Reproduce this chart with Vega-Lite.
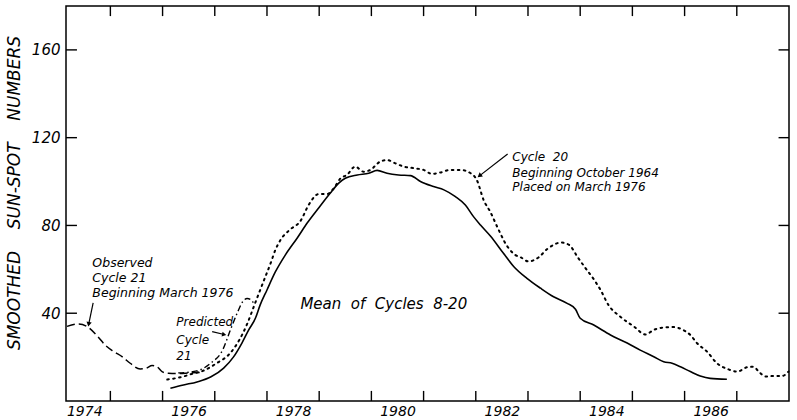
{
  "$schema": "https://vega.github.io/schema/vega-lite/v6.json",
  "width": 723,
  "height": 395,
  "autosize": {"type": "none"},
  "padding": {"left": 66, "top": 6, "right": 8, "bottom": 19},
  "background": "#ffffff",
  "config": {
    "view": {"stroke": "#000000", "strokeWidth": 1.5},
    "axis": {"grid": false, "domain": false, "ticks": false, "labelColor": "#000000", "labelFont": "DejaVu Sans", "labelFontStyle": "italic", "labelFontSize": 15, "labelOverlap": false, "labelFlush": false}
  },
  "datasets": {
    "mean": [
      {"year": 1976.15, "ssn": 5.8}, {"year": 1976.40, "ssn": 7.3}, {"year": 1976.66, "ssn": 8.7}, {"year": 1976.92, "ssn": 10.9},
      {"year": 1977.17, "ssn": 15.0}, {"year": 1977.36, "ssn": 20.1}, {"year": 1977.52, "ssn": 26.4}, {"year": 1977.65, "ssn": 32.4},
      {"year": 1977.78, "ssn": 37.8}, {"year": 1977.87, "ssn": 43.8}, {"year": 1978.00, "ssn": 50.6}, {"year": 1978.16, "ssn": 58.8},
      {"year": 1978.35, "ssn": 66.5}, {"year": 1978.58, "ssn": 74.3}, {"year": 1978.77, "ssn": 81.1}, {"year": 1978.99, "ssn": 88.0},
      {"year": 1979.21, "ssn": 94.7}, {"year": 1979.37, "ssn": 99.2}, {"year": 1979.50, "ssn": 101.5}, {"year": 1979.73, "ssn": 103.0},
      {"year": 1979.95, "ssn": 103.8}, {"year": 1980.11, "ssn": 105.1}, {"year": 1980.30, "ssn": 103.8}, {"year": 1980.52, "ssn": 103.0},
      {"year": 1980.75, "ssn": 102.7}, {"year": 1980.94, "ssn": 100.0}, {"year": 1981.19, "ssn": 97.7}, {"year": 1981.39, "ssn": 96.2},
      {"year": 1981.61, "ssn": 93.1}, {"year": 1981.80, "ssn": 89.3}, {"year": 1981.96, "ssn": 83.9}, {"year": 1982.09, "ssn": 80.2},
      {"year": 1982.28, "ssn": 75.2}, {"year": 1982.53, "ssn": 67.3}, {"year": 1982.73, "ssn": 61.2}, {"year": 1982.98, "ssn": 55.9},
      {"year": 1983.24, "ssn": 51.4}, {"year": 1983.49, "ssn": 47.5}, {"year": 1983.75, "ssn": 44.5}, {"year": 1983.91, "ssn": 41.8},
      {"year": 1984.00, "ssn": 37.7}, {"year": 1984.26, "ssn": 34.6}, {"year": 1984.58, "ssn": 30.1}, {"year": 1984.90, "ssn": 26.4},
      {"year": 1985.15, "ssn": 23.2}, {"year": 1985.41, "ssn": 20.2}, {"year": 1985.60, "ssn": 17.9}, {"year": 1985.76, "ssn": 17.2},
      {"year": 1985.92, "ssn": 15.6}, {"year": 1986.11, "ssn": 13.4}, {"year": 1986.30, "ssn": 11.4}, {"year": 1986.49, "ssn": 10.3},
      {"year": 1986.81, "ssn": 9.9}
    ],
    "cycle20": [
      {"year": 1976.09, "ssn": 9.8}, {"year": 1976.34, "ssn": 10.8}, {"year": 1976.60, "ssn": 12.6}, {"year": 1976.79, "ssn": 13.9},
      {"year": 1977.04, "ssn": 17.3}, {"year": 1977.28, "ssn": 21.4}, {"year": 1977.47, "ssn": 27.8}, {"year": 1977.62, "ssn": 35.1},
      {"year": 1977.76, "ssn": 43.8}, {"year": 1977.87, "ssn": 50.6}, {"year": 1977.97, "ssn": 56.7}, {"year": 1978.07, "ssn": 62.8},
      {"year": 1978.16, "ssn": 68.8}, {"year": 1978.26, "ssn": 73.4}, {"year": 1978.43, "ssn": 77.9}, {"year": 1978.64, "ssn": 82.0},
      {"year": 1978.81, "ssn": 89.8}, {"year": 1978.99, "ssn": 94.3}, {"year": 1979.15, "ssn": 94.3}, {"year": 1979.28, "ssn": 96.9},
      {"year": 1979.41, "ssn": 101.5}, {"year": 1979.53, "ssn": 103.0}, {"year": 1979.69, "ssn": 106.8}, {"year": 1979.85, "ssn": 104.5},
      {"year": 1979.98, "ssn": 105.3}, {"year": 1980.17, "ssn": 109.1}, {"year": 1980.30, "ssn": 109.8}, {"year": 1980.46, "ssn": 108.3},
      {"year": 1980.62, "ssn": 106.8}, {"year": 1980.81, "ssn": 106.1}, {"year": 1981.00, "ssn": 105.3}, {"year": 1981.16, "ssn": 103.5},
      {"year": 1981.32, "ssn": 104.1}, {"year": 1981.51, "ssn": 105.3}, {"year": 1981.71, "ssn": 105.3}, {"year": 1981.90, "ssn": 103.8},
      {"year": 1982.02, "ssn": 100.7}, {"year": 1982.15, "ssn": 91.6}, {"year": 1982.28, "ssn": 86.1}, {"year": 1982.41, "ssn": 79.4},
      {"year": 1982.60, "ssn": 70.6}, {"year": 1982.76, "ssn": 66.5}, {"year": 1982.85, "ssn": 65.6}, {"year": 1983.01, "ssn": 63.6},
      {"year": 1983.20, "ssn": 65.4}, {"year": 1983.37, "ssn": 69.3}, {"year": 1983.64, "ssn": 72.2}, {"year": 1983.79, "ssn": 71.1},
      {"year": 1983.95, "ssn": 65.6}, {"year": 1984.10, "ssn": 60.6}, {"year": 1984.23, "ssn": 56.5}, {"year": 1984.39, "ssn": 50.6},
      {"year": 1984.54, "ssn": 43.8}, {"year": 1984.77, "ssn": 38.4}, {"year": 1985.03, "ssn": 33.9}, {"year": 1985.25, "ssn": 30.3},
      {"year": 1985.41, "ssn": 32.4}, {"year": 1985.60, "ssn": 33.5}, {"year": 1985.78, "ssn": 33.7}, {"year": 1985.97, "ssn": 32.4},
      {"year": 1986.11, "ssn": 30.1}, {"year": 1986.24, "ssn": 26.3}, {"year": 1986.43, "ssn": 22.5}, {"year": 1986.62, "ssn": 17.2},
      {"year": 1986.82, "ssn": 14.6}, {"year": 1987.01, "ssn": 13.4}, {"year": 1987.20, "ssn": 15.4}, {"year": 1987.32, "ssn": 15.6},
      {"year": 1987.42, "ssn": 13.4}, {"year": 1987.55, "ssn": 11.2}, {"year": 1987.71, "ssn": 11.4}, {"year": 1987.87, "ssn": 11.4},
      {"year": 1987.99, "ssn": 13.4}
    ],
    "observed": [
      {"year": 1974.17, "ssn": 34.0}, {"year": 1974.39, "ssn": 35.1}, {"year": 1974.58, "ssn": 33.5}, {"year": 1974.75, "ssn": 29.6},
      {"year": 1974.90, "ssn": 25.5}, {"year": 1975.06, "ssn": 22.6}, {"year": 1975.23, "ssn": 20.1}, {"year": 1975.38, "ssn": 17.2},
      {"year": 1975.57, "ssn": 14.6}, {"year": 1975.69, "ssn": 15.0}, {"year": 1975.80, "ssn": 16.2}, {"year": 1975.90, "ssn": 15.5},
      {"year": 1975.99, "ssn": 13.4}, {"year": 1976.11, "ssn": 12.6}, {"year": 1976.30, "ssn": 12.5}, {"year": 1976.53, "ssn": 12.8},
      {"year": 1976.78, "ssn": 13.0}
    ],
    "predicted": [
      {"year": 1976.30, "ssn": 12.8}, {"year": 1976.55, "ssn": 13.3}, {"year": 1976.75, "ssn": 14.5}, {"year": 1976.92, "ssn": 17.2},
      {"year": 1977.15, "ssn": 23.2}, {"year": 1977.30, "ssn": 32.4}, {"year": 1977.43, "ssn": 40.1}, {"year": 1977.53, "ssn": 45.1},
      {"year": 1977.62, "ssn": 46.7}, {"year": 1977.70, "ssn": 46.0}, {"year": 1977.76, "ssn": 43.8}
    ],
    "tickSegs": [
      {"tick": "b75", "year": 1975, "ssn": 0}, {"tick": "b75", "year": 1975, "ssn": 4.6},
      {"tick": "b76", "year": 1976, "ssn": 0}, {"tick": "b76", "year": 1976, "ssn": 4.6},
      {"tick": "b77", "year": 1977, "ssn": 0}, {"tick": "b77", "year": 1977, "ssn": 4.6},
      {"tick": "b78", "year": 1978, "ssn": 0}, {"tick": "b78", "year": 1978, "ssn": 4.6},
      {"tick": "b79", "year": 1979, "ssn": 0}, {"tick": "b79", "year": 1979, "ssn": 4.6},
      {"tick": "b80", "year": 1980, "ssn": 0}, {"tick": "b80", "year": 1980, "ssn": 4.6},
      {"tick": "b81", "year": 1981, "ssn": 0}, {"tick": "b81", "year": 1981, "ssn": 4.6},
      {"tick": "b82", "year": 1982, "ssn": 0}, {"tick": "b82", "year": 1982, "ssn": 4.6},
      {"tick": "b83", "year": 1983, "ssn": 0}, {"tick": "b83", "year": 1983, "ssn": 4.6},
      {"tick": "b84", "year": 1984, "ssn": 0}, {"tick": "b84", "year": 1984, "ssn": 4.6},
      {"tick": "b85", "year": 1985, "ssn": 0}, {"tick": "b85", "year": 1985, "ssn": 4.6},
      {"tick": "b86", "year": 1986, "ssn": 0}, {"tick": "b86", "year": 1986, "ssn": 4.6},
      {"tick": "b87", "year": 1987, "ssn": 0}, {"tick": "b87", "year": 1987, "ssn": 4.6},
      {"tick": "t75", "year": 1975, "ssn": 180}, {"tick": "t75", "year": 1975, "ssn": 175.4},
      {"tick": "t76", "year": 1976, "ssn": 180}, {"tick": "t76", "year": 1976, "ssn": 175.4},
      {"tick": "t77", "year": 1977, "ssn": 180}, {"tick": "t77", "year": 1977, "ssn": 175.4},
      {"tick": "t78", "year": 1978, "ssn": 180}, {"tick": "t78", "year": 1978, "ssn": 175.4},
      {"tick": "t79", "year": 1979, "ssn": 180}, {"tick": "t79", "year": 1979, "ssn": 175.4},
      {"tick": "t80", "year": 1980, "ssn": 180}, {"tick": "t80", "year": 1980, "ssn": 175.4},
      {"tick": "t81", "year": 1981, "ssn": 180}, {"tick": "t81", "year": 1981, "ssn": 175.4},
      {"tick": "t82", "year": 1982, "ssn": 180}, {"tick": "t82", "year": 1982, "ssn": 175.4},
      {"tick": "t83", "year": 1983, "ssn": 180}, {"tick": "t83", "year": 1983, "ssn": 175.4},
      {"tick": "t84", "year": 1984, "ssn": 180}, {"tick": "t84", "year": 1984, "ssn": 175.4},
      {"tick": "t85", "year": 1985, "ssn": 180}, {"tick": "t85", "year": 1985, "ssn": 175.4},
      {"tick": "t86", "year": 1986, "ssn": 180}, {"tick": "t86", "year": 1986, "ssn": 175.4},
      {"tick": "t87", "year": 1987, "ssn": 180}, {"tick": "t87", "year": 1987, "ssn": 175.4},
      {"tick": "l40", "year": 1974.15, "ssn": 40}, {"tick": "l40", "year": 1974.36, "ssn": 40},
      {"tick": "l80", "year": 1974.15, "ssn": 80}, {"tick": "l80", "year": 1974.36, "ssn": 80},
      {"tick": "l120", "year": 1974.15, "ssn": 120}, {"tick": "l120", "year": 1974.36, "ssn": 120},
      {"tick": "l160", "year": 1974.15, "ssn": 160}, {"tick": "l160", "year": 1974.36, "ssn": 160},
      {"tick": "r40", "year": 1987.8, "ssn": 40}, {"tick": "r40", "year": 1988, "ssn": 40},
      {"tick": "r80", "year": 1987.8, "ssn": 80}, {"tick": "r80", "year": 1988, "ssn": 80},
      {"tick": "r120", "year": 1987.8, "ssn": 120}, {"tick": "r120", "year": 1988, "ssn": 120},
      {"tick": "r160", "year": 1987.8, "ssn": 160}, {"tick": "r160", "year": 1988, "ssn": 160}
    ],
    "notes": [
      {"group": "obs", "year": 1974.655, "ssn": 63.1, "text": "Observed"},
      {"group": "obs", "year": 1974.655, "ssn": 56.1, "text": "Cycle 21"},
      {"group": "obs", "year": 1974.655, "ssn": 49.0, "text": "Beginning March 1976"},
      {"group": "pred", "year": 1976.264, "ssn": 36.0, "text": "Predicted"},
      {"group": "pred", "year": 1976.264, "ssn": 27.8, "text": "Cycle"},
      {"group": "pred", "year": 1976.264, "ssn": 20.5, "text": "21"},
      {"group": "mean", "year": 1978.64, "ssn": 44.2, "text": "Mean\u00a0\u00a0of\u00a0\u00a0Cycles\u00a0\u00a08-20"},
      {"group": "c20", "year": 1982.70, "ssn": 111.0, "text": "Cycle\u00a0\u00a020"},
      {"group": "c20", "year": 1982.70, "ssn": 103.9, "text": "Beginning October 1964"},
      {"group": "c20", "year": 1982.70, "ssn": 97.3, "text": "Placed on March 1976"}
    ],
    "arrows": [
      {"arrow": "obs", "year": 1974.67, "ssn": 44.7, "year2": 1974.585, "ssn2": 35.0},
      {"arrow": "pred", "year": 1976.95, "ssn": 31.6, "year2": 1977.18, "ssn2": 30.3},
      {"arrow": "c20", "year": 1982.61, "ssn": 112.6, "year2": 1982.07, "ssn2": 102.6}
    ]
  },
  "layer": [
    {
      "data": {"name": "mean"},
      "mark": {"type": "line", "color": "#000000", "strokeWidth": 1.6, "interpolate": "monotone"},
      "encoding": {
        "x": {"field": "year", "type": "quantitative", "scale": {"domain": [1974.15, 1988], "nice": false, "zero": false},
          "axis": {"orient": "bottom",
            "values": [1974.5, 1976.5, 1978.5, 1980.5, 1982.5, 1984.5, 1986.5],
            "labelExpr": "'' + floor(datum.value)",
            "labelPadding": 3, "labelFontSize": 14, "title": null}},
        "y": {"field": "ssn", "type": "quantitative", "scale": {"domain": [0, 180], "nice": false},
          "axis": {"orient": "left", "values": [40, 80, 120, 160], "labelPadding": 6,
            "title": "SMOOTHED\u00a0\u00a0\u00a0\u00a0SUN-SPOT\u00a0\u00a0\u00a0\u00a0NUMBERS", "titleFont": "DejaVu Sans", "titleFontStyle": "italic", "titleFontWeight": "normal", "titleFontSize": 17, "titleColor": "#000000",
            "titleAngle": -90, "titleX": -52, "titleY": 186.5, "titleAlign": "center", "titleBaseline": "middle"}}
      }
    },
    {
      "data": {"name": "tickSegs"},
      "mark": {"type": "line", "color": "#000000", "strokeWidth": 1.4, "interpolate": "linear"},
      "encoding": {
        "x": {"field": "year", "type": "quantitative"},
        "y": {"field": "ssn", "type": "quantitative"},
        "detail": {"field": "tick", "type": "nominal"},
        "order": {"field": "ssn", "type": "quantitative"}
      }
    },
    {
      "data": {"name": "cycle20"},
      "mark": {"type": "line", "color": "#000000", "strokeWidth": 2, "strokeDash": [1.6, 4.4], "strokeCap": "round", "interpolate": "monotone"},
      "encoding": {
        "x": {"field": "year", "type": "quantitative"},
        "y": {"field": "ssn", "type": "quantitative"}
      }
    },
    {
      "data": {"name": "observed"},
      "mark": {"type": "line", "color": "#000000", "strokeWidth": 1.5, "strokeDash": [8, 4], "interpolate": "monotone"},
      "encoding": {
        "x": {"field": "year", "type": "quantitative"},
        "y": {"field": "ssn", "type": "quantitative"}
      }
    },
    {
      "data": {"name": "predicted"},
      "mark": {"type": "line", "color": "#000000", "strokeWidth": 1.4, "strokeDash": [6, 3, 1.5, 3], "interpolate": "monotone"},
      "encoding": {
        "x": {"field": "year", "type": "quantitative"},
        "y": {"field": "ssn", "type": "quantitative"}
      }
    },
    {
      "data": {"name": "arrows"},
      "mark": {"type": "rule", "color": "#000000", "strokeWidth": 1.2},
      "encoding": {
        "x": {"field": "year", "type": "quantitative"},
        "y": {"field": "ssn", "type": "quantitative"},
        "x2": {"field": "year2"},
        "y2": {"field": "ssn2"}
      }
    },
    {
      "data": {"name": "arrows"},
      "transform": [{"filter": "datum.arrow === 'obs'"}],
      "mark": {"type": "point", "shape": "triangle-up", "filled": true, "color": "#000000", "opacity": 1, "size": 28, "angle": 190},
      "encoding": {
        "x": {"field": "year2", "type": "quantitative"},
        "y": {"field": "ssn2", "type": "quantitative"}
      }
    },
    {
      "data": {"name": "arrows"},
      "transform": [{"filter": "datum.arrow === 'pred'"}],
      "mark": {"type": "point", "shape": "triangle-up", "filled": true, "color": "#000000", "opacity": 1, "size": 24, "angle": 102},
      "encoding": {
        "x": {"field": "year2", "type": "quantitative"},
        "y": {"field": "ssn2", "type": "quantitative"}
      }
    },
    {
      "data": {"name": "arrows"},
      "transform": [{"filter": "datum.arrow === 'c20'"}],
      "mark": {"type": "point", "shape": "triangle-up", "filled": true, "color": "#000000", "opacity": 1, "size": 28, "angle": 232},
      "encoding": {
        "x": {"field": "year2", "type": "quantitative"},
        "y": {"field": "ssn2", "type": "quantitative"}
      }
    },
    {
      "data": {"name": "notes"},
      "transform": [{"filter": "datum.group === 'obs'"}],
      "mark": {"type": "text", "align": "left", "baseline": "middle", "font": "DejaVu Sans", "fontStyle": "italic", "fontSize": 12.5, "color": "#000000"},
      "encoding": {
        "x": {"field": "year", "type": "quantitative"},
        "y": {"field": "ssn", "type": "quantitative"},
        "text": {"field": "text"}
      }
    },
    {
      "data": {"name": "notes"},
      "transform": [{"filter": "datum.group === 'pred'"}],
      "mark": {"type": "text", "align": "left", "baseline": "middle", "font": "DejaVu Sans", "fontStyle": "italic", "fontSize": 12, "color": "#000000"},
      "encoding": {
        "x": {"field": "year", "type": "quantitative"},
        "y": {"field": "ssn", "type": "quantitative"},
        "text": {"field": "text"}
      }
    },
    {
      "data": {"name": "notes"},
      "transform": [{"filter": "datum.group === 'mean'"}],
      "mark": {"type": "text", "align": "left", "baseline": "middle", "font": "DejaVu Sans", "fontStyle": "italic", "fontSize": 15, "color": "#000000"},
      "encoding": {
        "x": {"field": "year", "type": "quantitative"},
        "y": {"field": "ssn", "type": "quantitative"},
        "text": {"field": "text"}
      }
    },
    {
      "data": {"name": "notes"},
      "transform": [{"filter": "datum.group === 'c20'"}],
      "mark": {"type": "text", "align": "left", "baseline": "middle", "font": "DejaVu Sans", "fontStyle": "italic", "fontSize": 12, "color": "#000000"},
      "encoding": {
        "x": {"field": "year", "type": "quantitative"},
        "y": {"field": "ssn", "type": "quantitative"},
        "text": {"field": "text"}
      }
    }
  ]
}
